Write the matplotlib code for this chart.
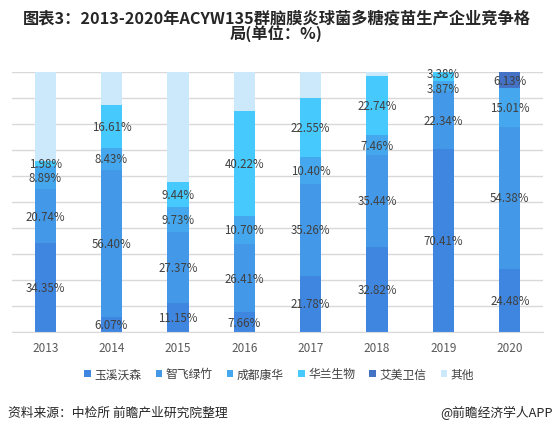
import numpy as np
import matplotlib.pyplot as plt

plt.rcParams['font.family'] = ['Noto Sans CJK SC', 'DejaVu Sans']

years = ['2013', '2014', '2015', '2016', '2017', '2018', '2019', '2020']
companies = ['玉溪沃森', '智飞绿竹', '成都康华', '华兰生物', '艾美卫信', '其他']

# share of each company per year (%)
yuxi = [34.35, 6.07, 11.15, 7.66, 21.78, 32.82, 70.41, 24.48]
zhifei = [20.74, 56.40, 27.37, 26.41, 35.26, 35.44, 22.34, 54.38]
kanghua = [8.89, 8.43, 9.73, 10.70, 10.40, 7.46, 3.87, 15.01]
hualan = [1.98, 16.61, 9.44, 40.22, 22.55, 22.74, 3.38, 0]
aimei = [0, 0, 0, 0, 0, 0, 0, 6.13]
other = [34.04, 12.49, 42.31, 15.01, 10.01, 1.54, 0, 0]

series = [yuxi, zhifei, kanghua, hualan, aimei, other]
colors = ['#3f86e0', '#4399e8', '#45a8ee', '#46c9fc', '#4472c4', '#cce9fb']

fig = plt.figure(figsize=(5.53, 4.35), dpi=100, facecolor='w')
ax = fig.add_axes([0.0217, 0.2338, 0.9602, 0.5977])

x = np.arange(len(years))
bottom = np.zeros(len(years))
label_sets = {}
for name, vals, c in zip(companies, series, colors):
    vals = np.array(vals)
    bars = ax.bar(x, vals, 0.32, bottom=bottom, color=c, label=name, zorder=2)
    if name != '其他':
        labels = ['{:.2f}%'.format(v) if v > 0 else '' for v in vals]
        label_sets[name] = ax.bar_label(bars, labels=labels, label_type='center',
                                        fontsize=8.3, color='#404040', zorder=3)
    bottom += vals

# thin 2019 segments: push the two labels slightly apart
label_sets['华兰生物'][6].xyann = (0, 2)
label_sets['成都康华'][6].xyann = (0, -2)

ax.set_xlim(-0.5, len(years) - 0.5)
ax.set_ylim(0, 100)
ax.set_yticks(np.arange(0, 101, 10))
ax.set_yticklabels([])
ax.yaxis.set_tick_params(length=0)
ax.xaxis.set_tick_params(length=0, pad=6)
ax.set_xticks(x)
ax.set_xticklabels(years, fontsize=8.5, color='#595959')
ax.grid(axis='y', color='#d9d9d9', lw=1, zorder=0)
for spine in ('top', 'right', 'left'):
    ax.spines[spine].set_visible(False)
ax.spines['bottom'].set_color('#d9d9d9')

leg = fig.legend(*ax.get_legend_handles_labels(), loc='center',
                 bbox_to_anchor=(0.505, 0.138), ncol=6, frameon=False,
                 fontsize=8.5, handlelength=0.55, handleheight=0.55,
                 handletextpad=0.3, columnspacing=1.2, labelcolor='#404040',
                 borderpad=0)

fig.text(0.5, 0.976, '图表3：2013-2020年ACYW135群脑膜炎球菌多糖疫苗生产企业竞争格\n局(单位：%)',
         ha='center', va='top', fontsize=11.7, fontweight='bold', color='#262626',
         linespacing=0.95)
fig.text(0.014, 0.05, '资料来源：中检所 前瞻产业研究院整理', ha='left', va='center',
         fontsize=9.2, color='#262626')
fig.text(1.0, 0.05, '@前瞻经济学人APP', ha='right', va='center',
         fontsize=9.2, color='#262626')

fig.savefig('out.png', dpi=100)
